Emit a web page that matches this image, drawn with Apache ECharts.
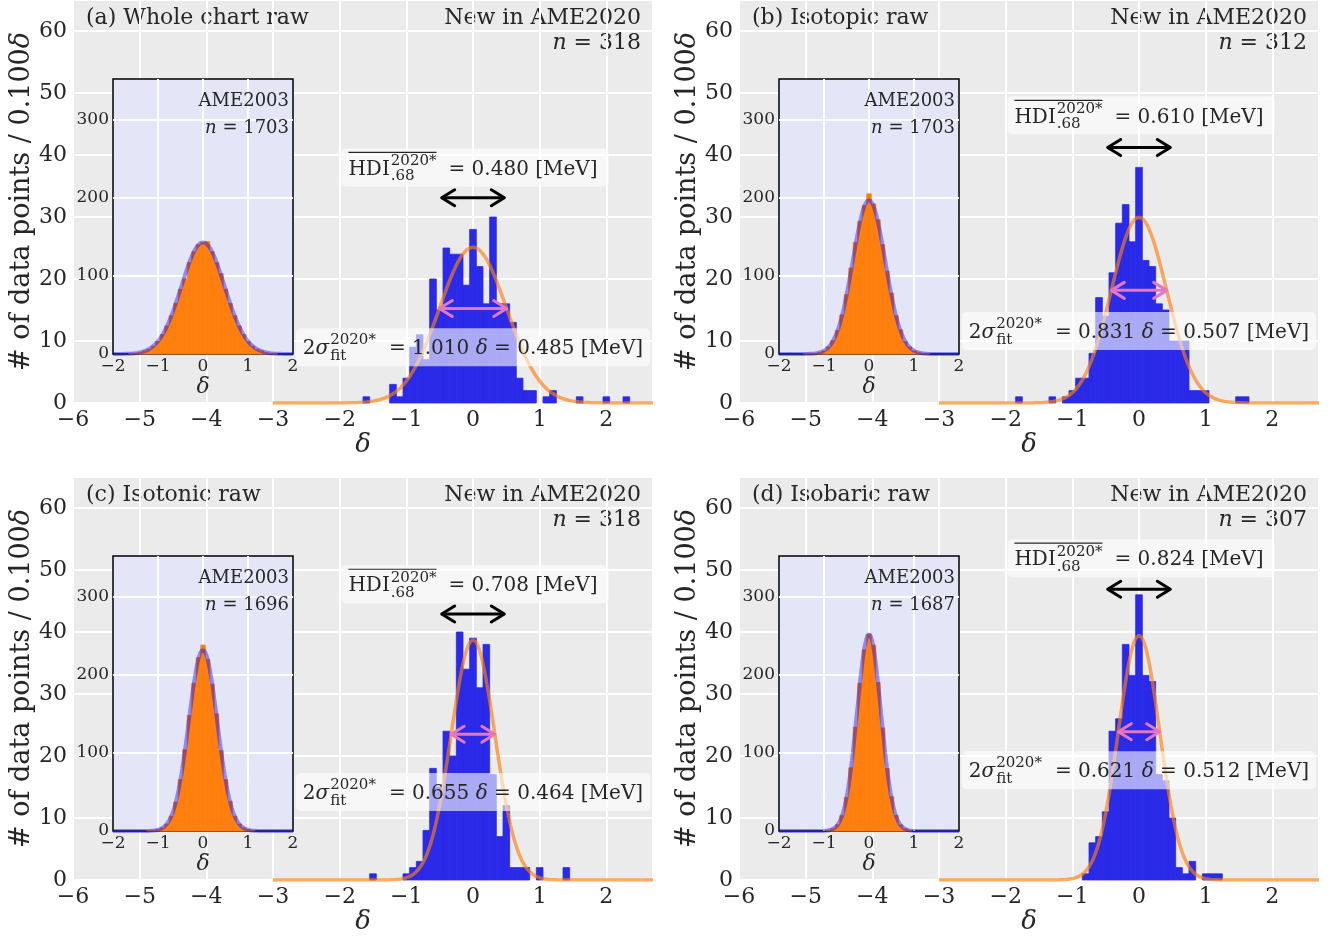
<!DOCTYPE html>
<html>
<head>
<meta charset="utf-8">
<title>delta histograms AME2020</title>
<script src="https://cdn.jsdelivr.net/npm/echarts@6.0.0/dist/echarts.min.js"></script>
<style>
html, body { margin: 0; padding: 0; background: #fff; }
#chart { width: 1332px; height: 937px; }
</style>
</head>
<body>
<div id="chart"></div>
<script>
var FONT = '"DejaVu Serif", serif';
var INK = '#262626';

// panel texts
var panelTitles = ['(a) Whole chart raw', '(b) Isotopic raw', '(c) Isotonic raw', '(d) Isobaric raw'];
var newCounts = [318, 312, 318, 307];
var oldCounts = [1703, 1703, 1696, 1687];
var twoSigma = [1.010, 0.831, 0.655, 0.621];      // 2 sigma_fit in delta
var twoSigmaMeV = ['0.485', '0.507', '0.464', '0.512'];
var hdiMeV = ['0.480', '0.610', '0.708', '0.824'];

// main histograms, bins of 0.1 delta
var binCenters = [-2.0, -1.9, -1.8, -1.7, -1.6, -1.5, -1.4, -1.3, -1.2, -1.1,
                  -1.0, -0.9, -0.8, -0.7, -0.6, -0.5, -0.4, -0.3, -0.2, -0.1,
                  0.0, 0.1, 0.2, 0.3, 0.4, 0.5, 0.6, 0.7, 0.8, 0.9,
                  1.0, 1.1, 1.2, 1.3, 1.4, 1.5, 1.6, 1.7, 1.8, 1.9,
                  2.0, 2.1, 2.2, 2.3, 2.4];
var histA = [0, 0, 0, 0, 1, 0, 0, 0, 3, 1,
             4, 9, 11, 7, 20, 15, 25, 24, 24, 19,
             28, 22, 16, 30, 16, 16, 13, 4, 2, 2,
             0, 1, 2, 0, 0, 0, 1, 0, 0, 0,
             1, 0, 0, 1, 0];
var histB = [0, 0, 1, 0, 0, 0, 0, 1, 0, 1,
             2, 4, 4, 8, 17, 14, 21, 29, 32, 26,
             38, 23, 22, 16, 15, 10, 10, 10, 2, 2,
             2, 0, 0, 0, 0, 1, 1, 0, 0, 0,
             0, 0, 0, 0, 0];
var histC = [0, 0, 0, 0, 0, 1, 0, 0, 0, 0,
             1, 2, 3, 8, 18, 15, 24, 20, 40, 34,
             39, 31, 38, 17, 7, 12, 2, 2, 2, 0,
             2, 0, 0, 0, 2, 0, 0, 0, 0, 0,
             0, 0, 0, 0, 0];
var histD = [0, 0, 0, 0, 0, 0, 0, 0, 0, 0,
             0, 0, 1, 6, 7, 11, 24, 26, 38, 33,
             46, 33, 32, 17, 16, 10, 2, 1, 3, 0,
             1, 1, 1, 0, 0, 0, 0, 0, 0, 0,
             0, 0, 0, 0, 0];

// AME2003 inset histograms
var insetCenters = [-1.9, -1.8, -1.7, -1.6, -1.5, -1.4, -1.3, -1.2, -1.1, -1.0,
                    -0.9, -0.8, -0.7, -0.6, -0.5, -0.4, -0.3, -0.2, -0.1, 0.0,
                    0.1, 0.2, 0.3, 0.4, 0.5, 0.6, 0.7, 0.8, 0.9, 1.0,
                    1.1, 1.2, 1.3, 1.4, 1.5, 1.6, 1.7, 1.8, 1.9];
var insetA = [0, 0, 0, 1, 1, 2, 4, 6, 10, 16,
              25, 36, 49, 65, 83, 96, 117, 131, 140, 143,
              144, 131, 117, 103, 83, 65, 49, 36, 25, 16,
              10, 6, 4, 2, 1, 1, 0, 0, 0];
var insetB = [0, 0, 0, 0, 0, 1, 1, 1, 2, 4,
              9, 17, 30, 50, 76, 110, 143, 170, 190, 205,
              192, 172, 140, 106, 78, 49, 31, 16, 9, 4,
              2, 1, 1, 0, 0, 0, 0, 0, 0];
var insetC = [0, 0, 0, 0, 0, 0, 0, 1, 1, 2,
              4, 9, 19, 37, 66, 104, 148, 189, 222, 238,
              220, 188, 150, 103, 66, 38, 19, 9, 4, 2,
              1, 0, 0, 0, 0, 0, 0, 0, 0];
var insetD = [0, 0, 0, 0, 0, 0, 0, 0, 0, 0,
              1, 3, 8, 20, 43, 81, 133, 189, 232, 252,
              238, 190, 132, 80, 44, 20, 8, 3, 1, 0,
              0, 0, 0, 0, 0, 0, 0, 0, 0];
var insetPeak = [143, 197, 232, 252];
var insetSigma = [0.48, 0.36, 0.315, 0.265];

// annotation anchors (data coords)
var hdiAt = [[0, 38.0], [0, 46.4], [0, 47.7], [0, 51.9]];
var hdiArrowY = [33.1, 41.2, 42.9, 46.9];
var hdiHalf = 0.47;
var sigAt = [[0, 9.0], [0, 11.6], [0, 14.2], [0, 17.7]];

var mains = [histA, histB, histC, histD];
var insets = [insetA, insetB, insetC, insetD];

var BIN = 0.1;
var INSET_YMAX = 352;
var mainPos = [[73, 0], [739, 0], [73, 477], [739, 477]];
var MAIN_W = 580, MAIN_H = 403;
var INSET_DX = 40, INSET_DY = 79, INSET_W = 180, INSET_H = 275;
var BIG = 20, SMALL = 15;

var measure = document.createElement('canvas').getContext('2d');
function tw(str, size, italic) {
    measure.font = (italic ? 'italic ' : '') + size + 'px ' + FONT;
    return measure.measureText(str).width;
}
function minus(v) { return v < 0 ? '\u2212' + (-v) : String(v); }
function fnt(size, italic) { return (italic ? 'italic ' : '') + size + 'px ' + FONT; }

function gauss(amp, sig, x0, x1, step) {
    var out = [];
    for (var x = x0; x <= x1 + 1e-9; x += step) {
        out.push([x, amp * Math.exp(-x * x / (2 * sig * sig))]);
    }
    return out;
}

function barItem(fill) {
    return function (params, api) {
        var x = api.value(0), h = api.value(1);
        var p0 = api.coord([x - BIN / 2, h]);
        var p1 = api.coord([x + BIN / 2, 0]);
        return {
            type: 'rect',
            shape: { x: p0[0], y: p0[1], width: p1[0] - p0[0], height: p1[1] - p0[1] },
            style: { fill: fill, stroke: fill, lineWidth: 0.8 }
        };
    };
}

function arrowItem(color) {
    return function (params, api) {
        var a = api.coord([api.value(0), api.value(2)]);
        var b = api.coord([api.value(1), api.value(2)]);
        var hl = 13, hw = 8;
        function st() { return { stroke: color, lineWidth: 3, fill: null, lineCap: 'round', lineJoin: 'round' }; }
        return {
            type: 'group',
            children: [
                { type: 'line', shape: { x1: a[0] + 1, y1: a[1], x2: b[0] - 1, y2: b[1] }, style: st() },
                { type: 'polyline', shape: { points: [[a[0] + hl, a[1] - hw], [a[0], a[1]], [a[0] + hl, a[1] + hw]] }, style: st() },
                { type: 'polyline', shape: { points: [[b[0] - hl, b[1] - hw], [b[0], b[1]], [b[0] - hl, b[1] + hw]] }, style: st() }
            ]
        };
    };
}

function hdiItem(k) {
    return function (params, api) {
        var c = api.coord([api.value(0), api.value(1)]);
        var wH = tw('HDI', BIG), wSup = tw('2020*', SMALL), wSub = tw('.68', SMALL);
        var rest = '= ' + hdiMeV[k] + ' [MeV]';
        var wR = tw(rest, BIG);
        var wS = Math.max(wSup, wSub);
        var total = wH + wS + 13 + wR;
        var x0 = c[0] - total / 2, y = c[1];
        return {
            type: 'group',
            children: [
                { type: 'rect', shape: { x: x0 - 7, y: y - 19, width: total + 18, height: 38, r: 5 },
                  style: { fill: 'rgba(255,255,255,0.6)' } },
                { type: 'text', style: { text: 'HDI', x: x0, y: y + 2, font: fnt(BIG), fill: INK, verticalAlign: 'middle' } },
                { type: 'line', shape: { x1: x0, y1: y - 15, x2: x0 + wH + wSup + 1, y2: y - 15 },
                  style: { stroke: INK, lineWidth: 1.2 } },
                { type: 'text', style: { text: '2020*', x: x0 + wH + 1, y: y - 6, font: fnt(SMALL), fill: INK, verticalAlign: 'middle' } },
                { type: 'text', style: { text: '.68', x: x0 + wH + 1, y: y + 9, font: fnt(SMALL), fill: INK, verticalAlign: 'middle' } },
                { type: 'text', style: { text: rest, x: x0 + wH + wS + 13, y: y + 2, font: fnt(BIG), fill: INK, verticalAlign: 'middle' } }
            ]
        };
    };
}

function sigItem(k) {
    return function (params, api) {
        var c = api.coord([api.value(0), api.value(1)]);
        var w2 = tw('2', BIG) + tw('\u03c3', BIG, true);
        var wSup = tw('2020*', SMALL), wSub = tw('fit', SMALL);
        var wS = Math.max(wSup, wSub);
        var a = '= ' + twoSigma[k].toFixed(3) + ' ', b = ' = ' + twoSigmaMeV[k] + ' [MeV]';
        var wR = tw(a, BIG) + tw('\u03b4', BIG, true) + tw(b, BIG);
        var total = w2 + wS + 14 + wR;
        var x0 = c[0] - total / 2, y = c[1];
        return {
            type: 'group',
            children: [
                { type: 'rect', shape: { x: x0 - 7, y: y - 19, width: total + 14, height: 38, r: 5 },
                  style: { fill: 'rgba(255,255,255,0.6)' } },
                { type: 'text', style: { text: '2{i|\u03c3}', x: x0, y: y + 2, font: fnt(BIG), fill: INK, verticalAlign: 'middle',
                  rich: { i: { fontFamily: FONT, fontSize: BIG, fontStyle: 'italic', color: INK } } } },
                { type: 'text', style: { text: '2020*', x: x0 + w2 + 1, y: y - 7, font: fnt(SMALL), fill: INK, verticalAlign: 'middle' } },
                { type: 'text', style: { text: 'fit', x: x0 + w2 + 1, y: y + 9, font: fnt(SMALL), fill: INK, verticalAlign: 'middle' } },
                { type: 'text', style: { text: a + '{i|\u03b4}' + b, x: x0 + w2 + wS + 14, y: y + 2, font: fnt(BIG), fill: INK,
                  verticalAlign: 'middle',
                  rich: { i: { fontFamily: FONT, fontSize: BIG, fontStyle: 'italic', color: INK } } } }
            ]
        };
    };
}

function insetTextItem(k) {
    return function (params, api) {
        var c = api.coord([2, INSET_YMAX]);
        return {
            type: 'group',
            children: [
                { type: 'text', style: { text: 'AME2003', x: c[0] - 4, y: c[1] + 22, font: fnt(18), fill: INK,
                  align: 'right', verticalAlign: 'middle' } },
                { type: 'text', style: { text: '{i|n} = ' + oldCounts[k], x: c[0] - 4, y: c[1] + 49, font: fnt(18), fill: INK,
                  align: 'right', verticalAlign: 'middle',
                  rich: { i: { fontFamily: FONT, fontSize: 18, fontStyle: 'italic', color: INK } } } }
            ]
        };
    };
}

var grids = [], xAxes = [], yAxes = [], series = [], graphics = [];

mainPos.forEach(function (p, i) {
    var gi = i * 2, ii = i * 2 + 1;
    grids.push({ left: p[0], top: p[1], width: MAIN_W, height: MAIN_H, show: true,
                 backgroundColor: '#ebebeb', borderWidth: 0 });
    grids.push({ left: p[0] + INSET_DX, top: p[1] + INSET_DY, width: INSET_W, height: INSET_H, show: true,
                 backgroundColor: '#e5e5f8', borderColor: '#000', borderWidth: 1.5, zlevel: 1 });

    xAxes.push({
        type: 'value', gridIndex: gi, min: -6, max: 2.7, interval: 1,
        axisLine: { show: false }, axisTick: { show: false },
        splitLine: { show: true, lineStyle: { color: '#fff', width: 2 } },
        axisLabel: { showMaxLabel: false, formatter: minus, fontFamily: FONT, fontSize: 22, color: INK, margin: 6 },
        name: '\u03b4', nameLocation: 'middle', nameGap: 26,
        nameTextStyle: { fontFamily: FONT, fontSize: 26, fontStyle: 'italic', color: INK }
    });
    xAxes.push({
        type: 'value', gridIndex: ii, min: -2, max: 2, interval: 1, zlevel: 1,
        axisLine: { show: false }, axisTick: { show: false },
        splitLine: { show: true, showMinLine: false, showMaxLine: false, lineStyle: { color: '#fff', width: 2 } },
        axisLabel: { formatter: minus, fontFamily: FONT, fontSize: 17, color: INK, margin: 4 },
        name: '\u03b4', nameLocation: 'middle', nameGap: 22,
        nameTextStyle: { fontFamily: FONT, fontSize: 22, fontStyle: 'italic', color: INK }
    });
    yAxes.push({
        type: 'value', gridIndex: gi, min: 0, max: 65, interval: 10,
        axisLine: { show: false }, axisTick: { show: false },
        splitLine: { show: true, lineStyle: { color: '#fff', width: 2 } },
        axisLabel: { showMaxLabel: false, fontFamily: FONT, fontSize: 22, color: INK, margin: 6 },
        name: '# of data points / 0.100{i|\u03b4}', nameLocation: 'middle', nameGap: 24,
        nameTextStyle: { fontFamily: FONT, fontSize: 27, color: INK,
                         rich: { i: { fontFamily: FONT, fontSize: 27, fontStyle: 'italic', color: INK } } }
    });
    yAxes.push({
        type: 'value', gridIndex: ii, min: 0, max: INSET_YMAX, interval: 100, zlevel: 1,
        axisLine: { show: false }, axisTick: { show: false },
        splitLine: { show: true, showMinLine: false, showMaxLine: false, lineStyle: { color: '#fff', width: 2 } },
        axisLabel: { showMaxLabel: false, fontFamily: FONT, fontSize: 17, color: INK, margin: 4 }
    });

    // main histogram
    series.push({
        type: 'custom', xAxisIndex: gi, yAxisIndex: gi, z: 2, silent: true,
        data: binCenters.map(function (c, k) { return [c, mains[i][k]]; }).filter(function (d) { return d[1] > 0; }),
        renderItem: barItem('#2a2ae8')
    });
    // gaussian fit
    var sig = twoSigma[i] / 2;
    var amp = newCounts[i] * BIN / (sig * Math.sqrt(2 * Math.PI));
    series.push({
        type: 'line', xAxisIndex: gi, yAxisIndex: gi, z: 3, silent: true, showSymbol: false,
        data: gauss(amp, sig, -3, 2.7, 0.02),
        lineStyle: { color: 'rgba(255,127,14,0.65)', width: 3.5 }
    });
    // +-sigma arrow
    series.push({
        type: 'custom', xAxisIndex: gi, yAxisIndex: gi, z: 4, silent: true,
        data: [[-sig, sig, amp * Math.exp(-0.5)]],
        renderItem: arrowItem('#e377c2')
    });
    // HDI arrow
    series.push({
        type: 'custom', xAxisIndex: gi, yAxisIndex: gi, z: 4, silent: true,
        data: [[-hdiHalf, hdiHalf, hdiArrowY[i]]],
        renderItem: arrowItem('#000')
    });
    series.push({
        type: 'custom', xAxisIndex: gi, yAxisIndex: gi, z: 6, silent: true,
        data: [sigAt[i]], renderItem: sigItem(i)
    });
    series.push({
        type: 'custom', xAxisIndex: gi, yAxisIndex: gi, z: 6, silent: true,
        data: [hdiAt[i]], renderItem: hdiItem(i)
    });

    // inset
    series.push({
        type: 'custom', xAxisIndex: ii, yAxisIndex: ii, zlevel: 1, z: 2, silent: true,
        data: insetCenters.map(function (c, k) { return [c, insets[i][k]]; }).filter(function (d) { return d[1] > 0; }),
        renderItem: barItem('#ff7f0e')
    });
    series.push({
        type: 'line', xAxisIndex: ii, yAxisIndex: ii, zlevel: 1, z: 3, silent: true, showSymbol: false,
        data: gauss(insetPeak[i], insetSigma[i], -2, 2, 0.02),
        lineStyle: { color: 'rgba(0,0,255,0.4)', width: 4 }
    });
    series.push({
        type: 'custom', xAxisIndex: ii, yAxisIndex: ii, zlevel: 1, z: 5, silent: true,
        data: [[2, INSET_YMAX]], renderItem: insetTextItem(i)
    });

    graphics.push({ type: 'text', x: p[0] + 13, y: p[1] + 18,
        style: { text: panelTitles[i], font: fnt(22), fill: INK, verticalAlign: 'middle' } });
    graphics.push({ type: 'text', x: p[0] + 568, y: p[1] + 18,
        style: { text: 'New in AME2020', font: fnt(22), fill: INK, align: 'right', verticalAlign: 'middle' } });
    graphics.push({ type: 'text', x: p[0] + 568, y: p[1] + 43,
        style: { text: '{i|n} = ' + newCounts[i], font: fnt(22), fill: INK, align: 'right', verticalAlign: 'middle',
                 rich: { i: { fontFamily: FONT, fontSize: 22, fontStyle: 'italic', color: INK } } } });
});

var chart = echarts.init(document.getElementById('chart'));
chart.setOption({
    animation: false,
    backgroundColor: '#fff',
    grid: grids,
    xAxis: xAxes,
    yAxis: yAxes,
    series: series,
    graphic: { elements: graphics }
});
</script>
</body>
</html>
